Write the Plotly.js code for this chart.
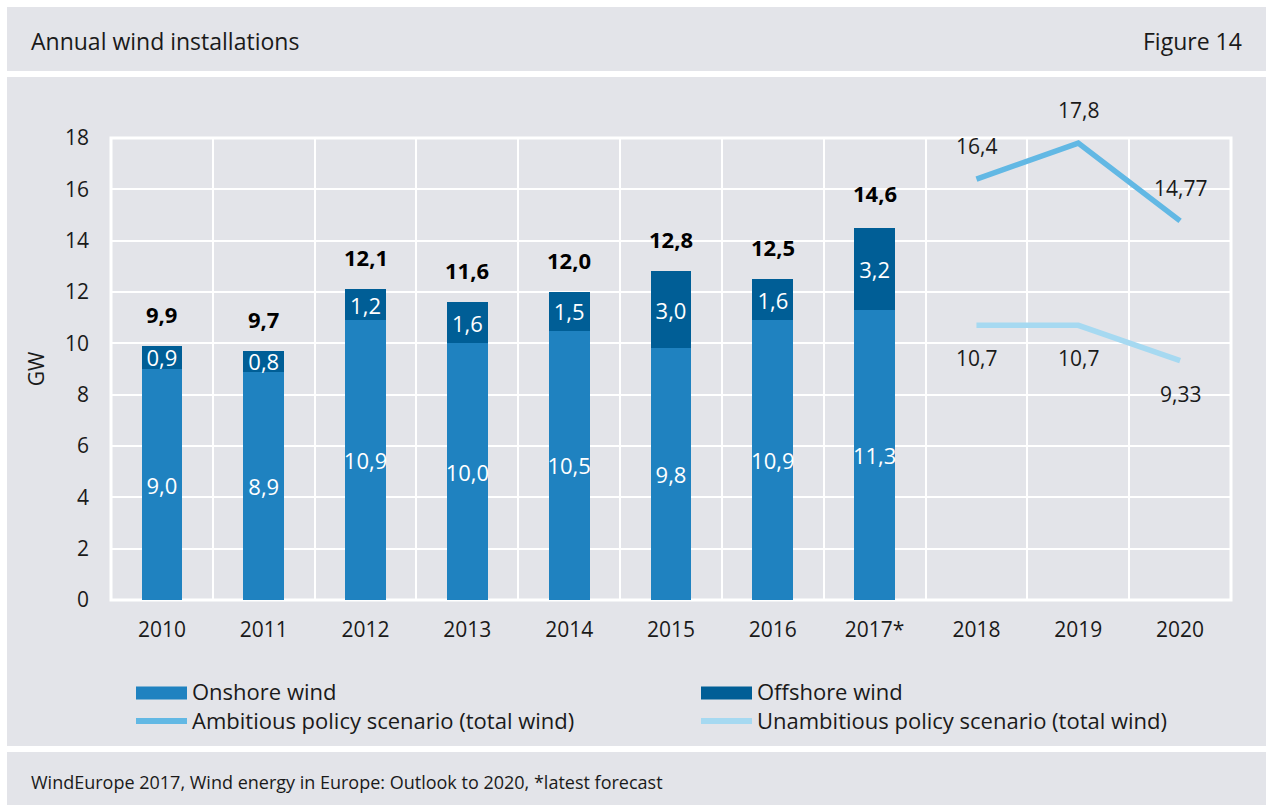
<!DOCTYPE html>
<html>
<head>
<meta charset="utf-8">
<script src="https://cdn.plot.ly/plotly-3.0.1.min.js"></script>
<style>
  html, body { margin: 0; padding: 0; background: #ffffff; }
  #chart { width: 1266px; height: 805px; }
</style>
</head>
<body>
<div id="chart"></div>
<script>
// ---- data ----
const categories = ['2010', '2011', '2012', '2013', '2014', '2015', '2016', '2017*', '2018', '2019', '2020'];
const barYears = ['2010', '2011', '2012', '2013', '2014', '2015', '2016', '2017*'];
const onshore = [9.0, 8.9, 10.9, 10.0, 10.5, 9.8, 10.9, 11.3];
const offshore = [0.9, 0.8, 1.2, 1.6, 1.5, 3.0, 1.6, 3.2];
const totals = [9.9, 9.7, 12.1, 11.6, 12.0, 12.8, 12.5, 14.6];
const scenarioYears = ['2018', '2019', '2020'];
const ambitious = [16.4, 17.8, 14.77];
const unambitious = [10.7, 10.7, 9.33];
const yTicks = [0, 2, 4, 6, 8, 10, 12, 14, 16, 18];
const seriesNames = ['Onshore wind', 'Offshore wind',
  'Ambitious policy scenario (total wind)', 'Unambitious policy scenario (total wind)'];

// ---- styling helpers ----
const FONT = 'Open Sans, Noto Sans, sans-serif';
const TXT = '#1a1a1a';
const PANEL = '#e3e4e9';
const COLORS = ['#1f82c0', '#005e96', '#62b8e4', '#a6d9f1'];
const M = { l: 111, r: 35, t: 138, b: 205 };
const W = 1266, H = 805;
const PW = W - M.l - M.r, PH = H - M.t - M.b;
const px = p => (p - M.l) / PW;
const py = p => (H - M.b - p) / PH;
const fmt1 = v => v.toFixed(1).replace('.', ',');
const fmtS = v => String(v).replace('.', ',');
const idx = c => categories.indexOf(c);

const traces = [
  {
    type: 'bar', name: seriesNames[0], x: barYears, y: onshore,
    marker: { color: COLORS[0] }, width: 0.4,
    text: onshore.map(fmt1), textposition: 'inside', insidetextanchor: 'middle',
    constraintext: 'none', textangle: 0,
    insidetextfont: { color: '#ffffff', size: 22, family: FONT },
    hoverinfo: 'skip', showlegend: false
  },
  {
    type: 'bar', name: seriesNames[1], x: barYears, y: offshore,
    marker: { color: COLORS[1] }, width: 0.4,
    text: offshore.map(fmt1), textposition: 'inside', insidetextanchor: 'middle',
    constraintext: 'none', textangle: 0,
    insidetextfont: { color: '#ffffff', size: 22, family: FONT },
    hoverinfo: 'skip', showlegend: false
  },
  {
    type: 'scatter', mode: 'lines', name: seriesNames[2],
    x: scenarioYears, y: ambitious,
    line: { color: COLORS[2], width: 5.5 }, hoverinfo: 'skip', showlegend: false
  },
  {
    type: 'scatter', mode: 'lines', name: seriesNames[3],
    x: scenarioYears, y: unambitious,
    line: { color: COLORS[3], width: 5.5 }, hoverinfo: 'skip', showlegend: false
  }
];

const annotations = [];
barYears.forEach((c, i) => {
  annotations.push({
    x: idx(c), y: totals[i], xref: 'x', yref: 'y', text: '<b>' + fmt1(totals[i]) + '</b>',
    showarrow: false, yshift: 32, font: { size: 22, color: '#000000', family: FONT }
  });
});
scenarioYears.forEach((c, i) => {
  annotations.push({
    x: idx(c), y: ambitious[i], xref: 'x', yref: 'y', text: fmtS(ambitious[i]),
    showarrow: false, yshift: 33, font: { size: 21, color: TXT, family: FONT }
  });
  annotations.push({
    x: idx(c), y: unambitious[i], xref: 'x', yref: 'y', text: fmtS(unambitious[i]),
    showarrow: false, yshift: -33, font: { size: 21, color: TXT, family: FONT }
  });
});
annotations.push(
  { xref: 'paper', yref: 'paper', x: px(29), y: py(41), xanchor: 'left', yanchor: 'middle',
    text: 'Annual wind installations', showarrow: false, font: { size: 23, color: TXT, family: FONT } },
  { xref: 'paper', yref: 'paper', x: px(1244), y: py(41), xanchor: 'right', yanchor: 'middle',
    text: 'Figure 14', showarrow: false, font: { size: 23, color: TXT, family: FONT } },
  { xref: 'paper', yref: 'paper', x: px(29), y: py(782), xanchor: 'left', yanchor: 'middle',
    text: 'WindEurope 2017, Wind energy in Europe: Outlook to 2020, *latest forecast',
    showarrow: false, font: { size: 18, color: TXT, family: FONT } }
);

const shapes = [
  { type: 'rect', xref: 'paper', yref: 'paper', x0: px(7), x1: px(1266), y0: py(7), y1: py(71),
    fillcolor: PANEL, line: { width: 0 }, layer: 'below' },
  { type: 'rect', xref: 'paper', yref: 'paper', x0: px(7), x1: px(1266), y0: py(77), y1: py(746),
    fillcolor: PANEL, line: { width: 0 }, layer: 'below' },
  { type: 'rect', xref: 'paper', yref: 'paper', x0: px(7), x1: px(1266), y0: py(752), y1: py(805),
    fillcolor: PANEL, line: { width: 0 }, layer: 'below' },
  { type: 'rect', xref: 'paper', yref: 'paper', x0: 0, x1: 1, y0: 0, y1: 1,
    fillcolor: 'rgba(0,0,0,0)', line: { width: 3, color: '#ffffff' }, layer: 'below' }
];

// ---- legend (two columns, drawn in paper space) ----
const legendCols = [136, 701];
const legendRows = [692, 721];
seriesNames.forEach((name, k) => {
  const col = legendCols[k % 2], row = legendRows[Math.floor(k / 2)];
  if (k < 2) {
    shapes.push({ type: 'rect', xref: 'paper', yref: 'paper',
      x0: px(col), x1: px(col + 51), y0: py(row - 5.5), y1: py(row + 7.5),
      fillcolor: COLORS[k], line: { width: 0 } });
  } else {
    shapes.push({ type: 'line', xref: 'paper', yref: 'paper',
      x0: px(col), x1: px(col + 51), y0: py(row), y1: py(row),
      line: { color: COLORS[k], width: 6 } });
  }
  annotations.push({ xref: 'paper', yref: 'paper', x: px(col + 55), y: py(row - 1),
    xanchor: 'left', yanchor: 'middle', text: name, showarrow: false, borderpad: 0,
    font: { size: 22, color: TXT, family: FONT } });
});

const layout = {
  width: W, height: H, autosize: false,
  margin: { l: M.l, r: M.r, t: M.t, b: M.b, pad: 0 },
  paper_bgcolor: '#ffffff', plot_bgcolor: 'rgba(0,0,0,0)',
  font: { family: FONT, color: TXT, size: 20 },
  separators: ', ',
  barmode: 'stack',
  showlegend: false,
  hovermode: false,
  xaxis: {
    type: 'category', categoryorder: 'array', categoryarray: categories,
    range: [-0.5, categories.length - 0.5],
    tickson: 'boundaries', showgrid: true, gridcolor: '#ffffff', gridwidth: 2,
    ticks: '', showline: false, zeroline: false,
    tickfont: { size: 21, color: TXT, family: FONT }, ticklabelstandoff: 15, fixedrange: true
  },
  yaxis: {
    range: [0, 18], tickvals: yTicks, ticktext: yTicks.map(String),
    showgrid: true, gridcolor: '#ffffff', gridwidth: 2, zeroline: false,
    showline: false, ticks: '',
    tickfont: { size: 21, color: TXT, family: FONT }, ticklabelstandoff: 21,
    title: { text: 'GW', font: { size: 21, color: TXT, family: FONT }, standoff: 14 },
    fixedrange: true
  },
  annotations: annotations,
  shapes: shapes
};

Plotly.newPlot('chart', traces, layout, { displayModeBar: false, staticPlot: true });
</script>
</body>
</html>
